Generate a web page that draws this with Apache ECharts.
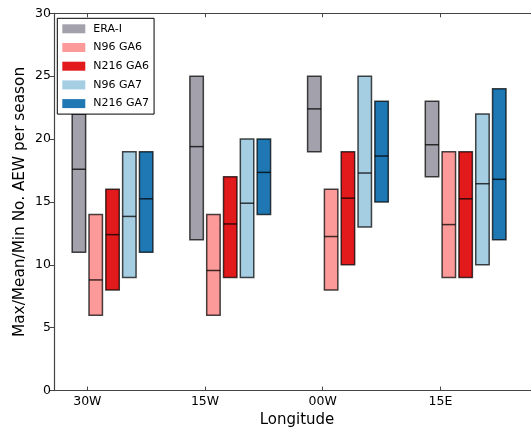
<!DOCTYPE html>
<html>
<head>
<meta charset="utf-8">
<script src="https://cdn.jsdelivr.net/npm/echarts@6/dist/echarts.min.js"></script>
<style>html,body{margin:0;padding:0;background:#fff;}#c{width:531px;height:430px;}</style>
</head>
<body>
<div id="c"></div>
<script>
var categories = ['30W', '15W', '00W', '15E'];
var seriesNames = ['ERA-I', 'N96 GA6', 'N216 GA6', 'N96 GA7', 'N216 GA7'];
var seriesColors = ['#a3a1ab', '#fb9a99', '#e31a1c', '#a6cee3', '#1f78b4'];

var eraMin   = [11, 12, 19, 17];
var eraMean  = [17.6, 19.4, 22.4, 19.55];
var eraMax   = [22, 25, 25, 23];

var n96ga6Min  = [6, 6, 8, 9];
var n96ga6Mean = [8.8, 9.55, 12.25, 13.2];
var n96ga6Max  = [14, 14, 16, 19];

var n216ga6Min  = [8, 9, 10, 9];
var n216ga6Mean = [12.4, 13.25, 15.3, 15.25];
var n216ga6Max  = [16, 17, 19, 19];

var n96ga7Min  = [9, 9, 13, 10];
var n96ga7Mean = [13.85, 14.9, 17.3, 16.45];
var n96ga7Max  = [19, 20, 25, 22];

var n216ga7Min  = [11, 14, 15, 12];
var n216ga7Mean = [15.25, 17.35, 18.65, 16.8];
var n216ga7Max  = [19, 20, 23, 24];

var yTicks = [0, 5, 10, 15, 20, 25, 30];

var mins  = [eraMin, n96ga6Min, n216ga6Min, n96ga7Min, n216ga7Min];
var means = [eraMean, n96ga6Mean, n216ga6Mean, n96ga7Mean, n216ga7Mean];
var maxs  = [eraMax, n96ga6Max, n216ga6Max, n96ga7Max, n216ga7Max];

var FONT = 'DejaVu Sans';
var slot = 1 / 7;
var barW = 0.8 / 7;
var tickPos = categories.map(function (c, i) { return i; });

var series = seriesNames.map(function (name, k) {
  var offset = (k - 0.5) * slot;
  var color = seriesColors[k];
  var data = categories.map(function (c, i) {
    return [i, mins[k][i], means[k][i], maxs[k][i]];
  });
  return {
    name: name,
    type: 'custom',
    itemStyle: { color: color },
    encode: { x: 0, y: [1, 3] },
    data: data,
    renderItem: function (params, api) {
      var x = api.value(0) + offset;
      var lo = api.coord([x - barW / 2, api.value(1)]);
      var hi = api.coord([x + barW / 2, api.value(3)]);
      var mn = api.coord([x, api.value(2)]);
      return {
        type: 'group',
        children: [
          { type: 'rect',
            shape: { x: lo[0], y: hi[1], width: hi[0] - lo[0], height: lo[1] - hi[1] },
            style: { fill: color, stroke: 'rgba(0,0,0,0.72)', lineWidth: 1.5 } },
          { type: 'line',
            shape: { x1: lo[0], y1: mn[1], x2: hi[0], y2: mn[1] },
            style: { stroke: 'rgba(0,0,0,0.75)', lineWidth: 1.5 } }
        ]
      };
    }
  };
});

var xMin = -0.283, xMax = 3.846;
var chart = echarts.init(document.getElementById('c'), null, { renderer: 'canvas' });
chart.setOption({
  animation: false,
  backgroundColor: '#fff',
  grid: { left: 54, right: -9, top: 13.3, bottom: 39.4, containLabel: false, outerBoundsMode: 'none' },
  legend: {
    orient: 'vertical', left: 57.3, top: 18.3,
    data: seriesNames,
    icon: 'rect', itemWidth: 23, itemHeight: 9, itemGap: 7.7,
    padding: [5, 5, 5, 5],
    borderColor: '#000', borderWidth: 1, backgroundColor: '#fff',
    itemStyle: { borderWidth: 0 },
    textStyle: { fontFamily: FONT, fontSize: 11, color: '#000', padding: [0, 0, 0, 3] }
  },
  xAxis: [{
    type: 'value', min: xMin, max: xMax, position: 'bottom',
    name: 'Longitude', nameLocation: 'middle', nameGap: 22, nameMoveOverlap: false,
    nameTextStyle: { fontFamily: FONT, fontSize: 15, color: '#000', verticalAlign: 'top' },
    splitLine: { show: false },
    axisLine: { show: true, onZero: false, lineStyle: { color: '#444', width: 1.2 } },
    axisTick: { show: true, inside: true, length: 4, customValues: tickPos, lineStyle: { color: '#444' } },
    axisLabel: { customValues: tickPos, margin: 5, fontFamily: FONT, fontSize: 12.5, color: '#000',
      formatter: function (v) { return categories[Math.round(v)]; } }
  }, {
    type: 'value', min: xMin, max: xMax, position: 'top',
    splitLine: { show: false },
    axisLine: { show: true, onZero: false, lineStyle: { color: '#444', width: 1.2 } },
    axisTick: { show: true, inside: true, length: 4, customValues: tickPos, lineStyle: { color: '#444' } },
    axisLabel: { show: false }
  }],
  yAxis: {
    type: 'value', min: 0, max: 30, interval: 5, position: 'left',
    name: 'Max/Mean/Min No. AEW per season', nameLocation: 'middle', nameGap: 26, nameMoveOverlap: false,
    nameTextStyle: { fontFamily: FONT, fontSize: 15.3, color: '#000' },
    splitLine: { show: false },
    axisLine: { show: true, onZero: false, lineStyle: { color: '#444', width: 1.2 } },
    axisTick: { show: true, inside: false, length: 4, lineStyle: { color: '#444' } },
    axisLabel: { margin: 3, fontFamily: FONT, fontSize: 12.5, color: '#000',
      formatter: function (v) { return yTicks.indexOf(v) >= 0 ? String(v) : ''; } }
  },
  series: series
});
</script>
</body>
</html>
